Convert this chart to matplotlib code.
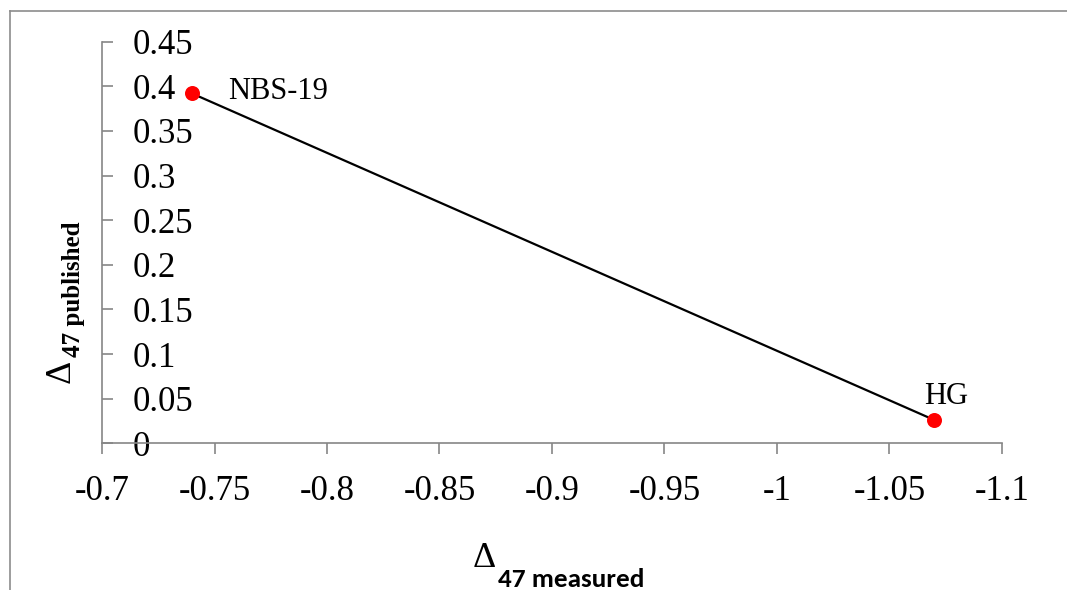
import matplotlib
matplotlib.use("Agg")
import matplotlib.pyplot as plt
from matplotlib.lines import Line2D
from matplotlib.ticker import FixedLocator, FixedFormatter
from matplotlib import font_manager as fm

# ---- data ----
sample_names = ["NBS-19", "HG"]
d47_measured = [-0.74, -1.07]
d47_published = [0.392, 0.026]

x_ticks = [-0.7, -0.75, -0.8, -0.85, -0.9, -0.95, -1.0, -1.05, -1.1]
x_tick_labels = ["-0.7", "-0.75", "-0.8", "-0.85", "-0.9", "-0.95", "-1", "-1.05", "-1.1"]
y_ticks = [0, 0.05, 0.1, 0.15, 0.2, 0.25, 0.3, 0.35, 0.4, 0.45]
y_tick_labels = ["0", "0.05", "0.1", "0.15", "0.2", "0.25", "0.3", "0.35", "0.4", "0.45"]

serif = "Liberation Serif"
plt.rcParams['font.family'] = [serif, 'DejaVu Serif']
plt.rcParams['axes.unicode_minus'] = False

# sans font for x label subscript (Calibri-like if available)
try:
    fm.findfont("Carlito", fallback_to_default=False)
    sub_family, sub_size = "Carlito", 19.5
except Exception:
    sub_family, sub_size = "Lato", 18

# ---- figure ----
W, H = 1067, 590
fig = plt.figure(figsize=(W / 100, H / 100), dpi=100)

gray = "#868686"

# outer frame (top and left edges visible)
fig.add_artist(Line2D([10 / W, 1.0], [1 - 11 / H, 1 - 11 / H], transform=fig.transFigure,
                      color="#8c8c8c", lw=1.2))
fig.add_artist(Line2D([10 / W, 10 / W], [1 - 11 / H, 0.0], transform=fig.transFigure,
                      color="#8c8c8c", lw=1.2))

ax_left, ax_right = 102, 1002
ax_top, ax_bottom = 41.7, 443.3
ax = fig.add_axes([ax_left / W, 1 - ax_bottom / H, (ax_right - ax_left) / W, (ax_bottom - ax_top) / H])

ax.plot(d47_measured, d47_published, color="black", lw=1.6, zorder=2, clip_on=False)
ax.plot(d47_measured, d47_published, "o", color="#ff0000", markersize=10.8,
        markeredgewidth=0, zorder=3, clip_on=False)

ax.set_xlim(-0.7, -1.1)
ax.set_ylim(0, 0.45)

ax.xaxis.set_major_locator(FixedLocator(x_ticks))
ax.xaxis.set_major_formatter(FixedFormatter(x_tick_labels))
ax.yaxis.set_major_locator(FixedLocator(y_ticks))
ax.yaxis.set_major_formatter(FixedFormatter(y_tick_labels))

ax.spines['top'].set_visible(False)
ax.spines['left'].set_visible(False)
ax.spines['right'].set_position(('data', -0.7))
for s in ('right', 'bottom'):
    ax.spines[s].set_color(gray)
    ax.spines[s].set_linewidth(1.2)

ax.yaxis.tick_right()
ax.tick_params(axis='y', direction='out', length=8, width=1.2, color=gray, pad=14,
               labelsize=25, labelcolor='black')
ax.tick_params(axis='x', direction='out', length=8, width=1.2, color=gray, pad=15,
               labelsize=25, labelcolor='black')

# point labels
ax.annotate(sample_names[0], (d47_measured[0], d47_published[0]), xytext=(26, -4),
            textcoords='offset points', ha='left', va='baseline', fontsize=22)
ax.annotate(sample_names[1], (d47_measured[1], d47_published[1]), xytext=(8.4, 11.5),
            textcoords='offset points', ha='center', va='baseline', fontsize=22)

# x axis label: Delta + subscript
fig.text(473 / W, 1 - 567 / H, "Δ", fontsize=26, ha='left', va='baseline')
fig.text(498 / W, 1 - 587 / H, "47 measured", fontsize=sub_size,
         family=[sub_family, "DejaVu Sans"], fontweight='bold', ha='left', va='baseline')

# y axis label (rotated)
fig.text(70 / W, 1 - 383 / H, "Δ", fontsize=26, rotation=90,
         rotation_mode='anchor', ha='left', va='baseline')
fig.text(80 / W, 1 - 357 / H, "47 published", fontsize=18,
         fontweight='bold', rotation=90, rotation_mode='anchor', ha='left', va='baseline')

fig.savefig("out.png", dpi=100)
